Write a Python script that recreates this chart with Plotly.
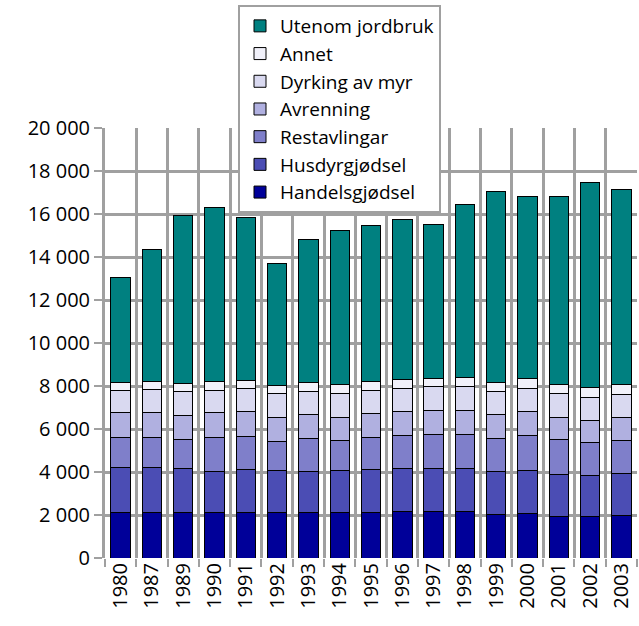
import plotly.graph_objects as go

years = ["1980", "1987", "1989", "1990", "1991", "1992", "1993", "1994", "1995",
         "1996", "1997", "1998", "1999", "2000", "2001", "2002", "2003"]

handelsgjodsel = [2120, 2120, 2120, 2120, 2120, 2120, 2110, 2110, 2120,
                  2140, 2170, 2170, 2045, 2075, 1940, 1940, 2000]
husdyrgjodsel = [2080, 2110, 2065, 1910, 1990, 1955, 1920, 1950, 2005,
                 2030, 1985, 1985, 1985, 1985, 1935, 1905, 1925]
restavlingar = [1385, 1370, 1325, 1585, 1550, 1340, 1525, 1400, 1460,
                1505, 1570, 1570, 1525, 1630, 1635, 1525, 1535]
avrenning = [1170, 1155, 1135, 1140, 1140, 1125, 1105, 1095, 1140,
             1155, 1150, 1150, 1105, 1110, 1045, 1045, 1095]
dyrking_av_myr = [1045, 1060, 1080, 1045, 1075, 1090, 1095, 1075, 1075,
                  1060, 1080, 1110, 1080, 1075, 1105, 1060, 1060]
annet = [385, 385, 400, 400, 400, 415, 415, 430, 400,
         435, 415, 415, 430, 465, 415, 450, 445]
utenom_jordbruk = [4865, 6170, 7805, 8120, 7555, 5665, 6660, 7155, 7260,
                   7415, 7155, 8030, 8890, 8490, 8725, 9535, 9090]

series = [
    ("Handelsgjødsel", handelsgjodsel, "#000099"),
    ("Husdyrgjødsel", husdyrgjodsel, "#4B4DB4"),
    ("Restavlingar", restavlingar, "#7F7FCA"),
    ("Avrenning", avrenning, "#B0B0E0"),
    ("Dyrking av myr", dyrking_av_myr, "#D9D9F0"),
    ("Annet", annet, "#F1F1FA"),
    ("Utenom jordbruk", utenom_jordbruk, "#008080"),
]

y_ticks = list(range(0, 20001, 2000))
y_tick_text = [f"{v:,}".replace(",", " ") for v in y_ticks]

font = "Open Sans, Noto Sans, sans-serif"
grid = "#A0A0A0"

fig = go.Figure()
for i, (name, vals, color) in enumerate(series):
    fig.add_trace(go.Bar(
        x=years, y=vals, name=name, legendgroup=name,
        legendrank=len(series) - i,
        marker=dict(color=color, line=dict(color="#000000", width=1)),
    ))

fig.update_layout(
    barmode="stack",
    bargap=0.38,
    width=639, height=626,
    margin=dict(l=105, r=2, t=128, b=68),
    paper_bgcolor="white",
    plot_bgcolor="white",
    font=dict(family=font, size=20, color="#000000"),
    showlegend=True,
    legend=dict(
        x=0.25, y=1.286, xanchor="left", yanchor="top",
        traceorder="grouped",
        tracegroupgap=0,
        bgcolor="white",
        bordercolor=grid, borderwidth=2,
        font=dict(family=font, size=19, color="#000000"),
    ),
    xaxis=dict(
        type="category",
        tickson="boundaries",
        tickangle=-90,
        ticks="outside", ticklen=8, tickcolor=grid, tickwidth=2,
        showgrid=True, gridcolor=grid, gridwidth=3,
        showline=False,
        tickfont=dict(family=font, size=20),
    ),
    yaxis=dict(
        range=[0, 20000],
        tickvals=y_ticks, ticktext=y_tick_text,
        ticks="outside", ticklen=8, tickcolor=grid, tickwidth=2,
        showgrid=True, gridcolor=grid, gridwidth=3,
        showline=True, linecolor=grid, linewidth=3,
        zeroline=False,
        tickfont=dict(family=font, size=20),
    ),
)

fig.write_html("out.html")
